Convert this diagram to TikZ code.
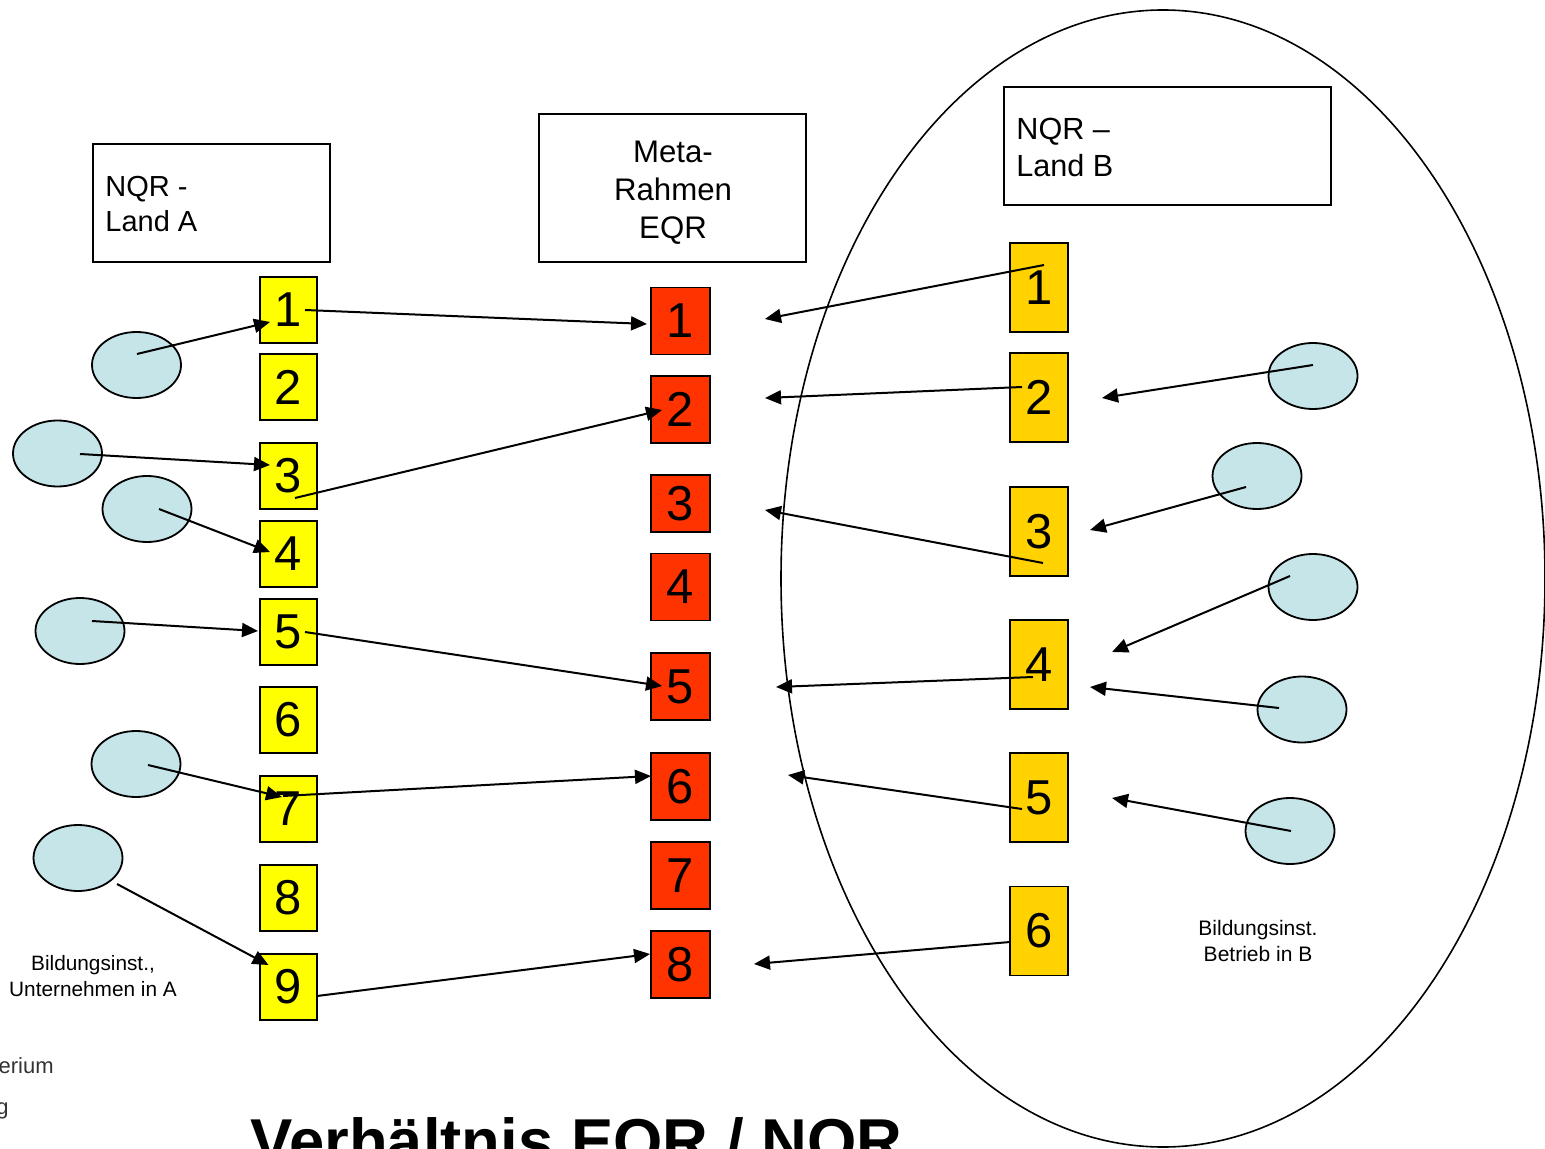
\documentclass[tikz,border=0pt]{standalone}
\usepackage{fontspec}
\setmainfont{Liberation Sans}
\usetikzlibrary{shapes.geometric,arrows.meta}
\definecolor{yel}{HTML}{FFFF00}
\definecolor{redb}{HTML}{FF3300}
\definecolor{gold}{HTML}{FFD200}
\definecolor{lblue}{HTML}{C5E5E8}
\definecolor{dgray}{HTML}{333333}
\tikzset{
  boxline/.style={draw=black,line width=0.9pt,inner sep=0pt},
  ybox/.style={boxline,fill=yel,minimum width=28.5pt,minimum height=33pt,font=\fontsize{24.5}{28}\selectfont},
  rbox/.style={boxline,fill=redb,minimum width=29.5pt,minimum height=33.5pt,font=\fontsize{24.5}{28}\selectfont},
  obox/.style={boxline,fill=gold,minimum width=29pt,minimum height=44.5pt,font=\fontsize{24.5}{28}\selectfont},
  hbox/.style={draw=black,line width=0.9pt,inner sep=0pt},
  blob/.style={ellipse,draw=black,line width=0.9pt,fill=lblue,minimum width=44.5pt,minimum height=33pt,inner sep=0pt},
  arr/.style={line width=1pt,-{Triangle[length=8pt,width=7pt]}},
  htext/.style={inner sep=0pt,align=left},
}
\begin{document}
\begin{tikzpicture}[x=0.5pt,y=-0.5pt]
\useasboundingbox (0,0) rectangle (1545,1149);
% big ellipse
\node[ellipse,draw=black,line width=0.8pt,minimum width=382pt,minimum height=568.5pt,inner sep=0pt] (big) at (1163,578.5) {};
% header boxes
\node[hbox,minimum width=118.5pt,minimum height=59pt] (hA) at (211.5,203) {};
\node[hbox,minimum width=133.5pt,minimum height=74pt] (hM) at (672.5,188) {};
\node[hbox,minimum width=163.5pt,minimum height=59pt] (hB) at (1167.5,146) {};
\node[htext,anchor=north west,font=\fontsize{14.5}{17.5}\selectfont] (tA) at (105,176) {NQR -\\Land A};
\node[inner sep=0pt,align=center,anchor=north,font=\fontsize{15.6}{19}\selectfont] (tM) at (673,141) {Meta-\\Rahmen\\EQR};
\node[htext,anchor=north west,font=\fontsize{15.3}{18.5}\selectfont] (tB) at (1016,118) {NQR –\\Land B};
% yellow boxes
\node[ybox] (y1) at (288.5,310) {1};
\node[ybox] (y2) at (288.5,387) {2};
\node[ybox] (y3) at (288.5,476) {3};
\node[ybox] (y4) at (288.5,554) {4};
\node[ybox] (y5) at (288.5,632) {5};
\node[ybox] (y6) at (288.5,720) {6};
\node[ybox] (y7) at (288.5,809) {7};
\node[ybox] (y8) at (288.5,898) {8};
\node[ybox] (y9) at (288.5,987) {9};
% red boxes
\node[rbox] (r1) at (680.5,321) {1};
\node[rbox] (r2) at (680.5,409.5) {2};
\node[rbox,minimum height=28.5pt] (r3) at (680.5,503.5) {3};
\node[rbox] (r4) at (680.5,587) {4};
\node[rbox] (r5) at (680.5,686.5) {5};
\node[rbox] (r6) at (680.5,786.5) {6};
\node[rbox] (r7) at (680.5,875.5) {7};
\node[rbox] (r8) at (680.5,964.5) {8};
% gold boxes
\node[obox] (o1) at (1039,287.5) {1};
\node[obox] (o2) at (1039,397.5) {2};
\node[obox] (o3) at (1039,531.5) {3};
\node[obox] (o4) at (1039,664.5) {4};
\node[obox] (o5) at (1039,797.5) {5};
\node[obox] (o6) at (1039,931) {6};
% left blobs
\node[blob] (la1) at (136.5,365) {};
\node[blob] (la2) at (57.5,453.5) {};
\node[blob] (la3) at (147,509) {};
\node[blob] (la4) at (80,631) {};
\node[blob] (la5) at (136,764) {};
\node[blob] (la6) at (78,858) {};
% right blobs
\node[blob] (rb1) at (1313,376) {};
\node[blob] (rb2) at (1257,476) {};
\node[blob] (rb3) at (1313,587) {};
\node[blob] (rb4) at (1302,709.5) {};
\node[blob] (rb5) at (1290,831) {};
% labels
\node[inner sep=0pt,align=center,anchor=north,font=\fontsize{10.4}{13}\selectfont] (lA) at (93,955) {Bildungsinst.,\\Unternehmen in A};
\node[inner sep=0pt,align=center,anchor=north,font=\fontsize{10.5}{13}\selectfont] (lB) at (1258,920) {Bildungsinst.\\Betrieb in B};
\node[inner sep=0pt,anchor=east,text=dgray,font=\fontsize{11}{13}\selectfont] (cut1) at (54,1066) {erium};
\node[inner sep=0pt,anchor=east,text=dgray,font=\fontsize{11}{13}\selectfont] (cut2) at (9,1111) {g};
\node[inner sep=0pt,anchor=base west,font=\bfseries\fontsize{31.7}{36}\selectfont] (title) at (250,1163) {Verhältnis EQR / NQR};
% free ends on the right
\coordinate (t1) at (765,319);
\coordinate (t2) at (765,398);
\coordinate (t3) at (765,510);
\coordinate (t4) at (776,687);
\coordinate (t5) at (788,775);
\coordinate (t6) at (754,964);
\coordinate (u1) at (1102,398);
\coordinate (u2) at (1090,530);
\coordinate (u3) at (1112,652);
\coordinate (u4) at (1090,687);
\coordinate (u5) at (1112,798);
% left arrows
\draw[arr] ([shift={(0.5,-11)}]la1.center) -- ([shift={(-18.5,12)}]y1.center);
\draw[arr] ([shift={(16.5,0)}]y1.center) -- ([shift={(-33.5,3)}]r1.center);
\draw[arr] ([shift={(22.5,0.5)}]la2.center) -- ([shift={(-18.5,-11)}]y3.center);
\draw[arr] ([shift={(6.5,22)}]y3.center) -- ([shift={(-18.5,0.5)}]r2.center);
\draw[arr] ([shift={(12,0)}]la3.center) -- ([shift={(-18.5,-2)}]y4.center);
\draw[arr] ([shift={(12,-10)}]la4.center) -- ([shift={(-30.5,-1)}]y5.center);
\draw[arr] ([shift={(16.5,0)}]y5.center) -- ([shift={(-18.5,-0.5)}]r5.center);
\draw[arr] ([shift={(12,1)}]la5.center) -- ([shift={(-6.5,-12)}]y7.center);
\draw[arr] ([shift={(-5.5,-13)}]y7.center) -- ([shift={(-29.5,-10.5)}]r6.center);
\draw[arr] ([shift={(39,26)}]la6.center) -- ([shift={(-20,-22)}]y9.center);
\draw[arr] ([shift={(28.5,9)}]y9.center) -- ([shift={(-30.5,-10.5)}]r8.center);
% right arrows
\draw[arr] ([shift={(5,-22.5)}]o1.center) -- (t1);
\draw[arr] ([shift={(-17,-10.5)}]o2.center) -- (t2);
\draw[arr] ([shift={(4,31.5)}]o3.center) -- (t3);
\draw[arr] ([shift={(-6,12.5)}]o4.center) -- (t4);
\draw[arr] ([shift={(-17,11.5)}]o5.center) -- (t5);
\draw[arr] ([shift={(-29,11)}]o6.center) -- (t6);
\draw[arr] ([shift={(0,-11)}]rb1.center) -- (u1);
\draw[arr] ([shift={(-11,11)}]rb2.center) -- (u2);
\draw[arr] ([shift={(-23,-11)}]rb3.center) -- (u3);
\draw[arr] ([shift={(-23,-1.5)}]rb4.center) -- (u4);
\draw[arr] ([shift={(1,0)}]rb5.center) -- (u5);
\end{tikzpicture}
\end{document}
